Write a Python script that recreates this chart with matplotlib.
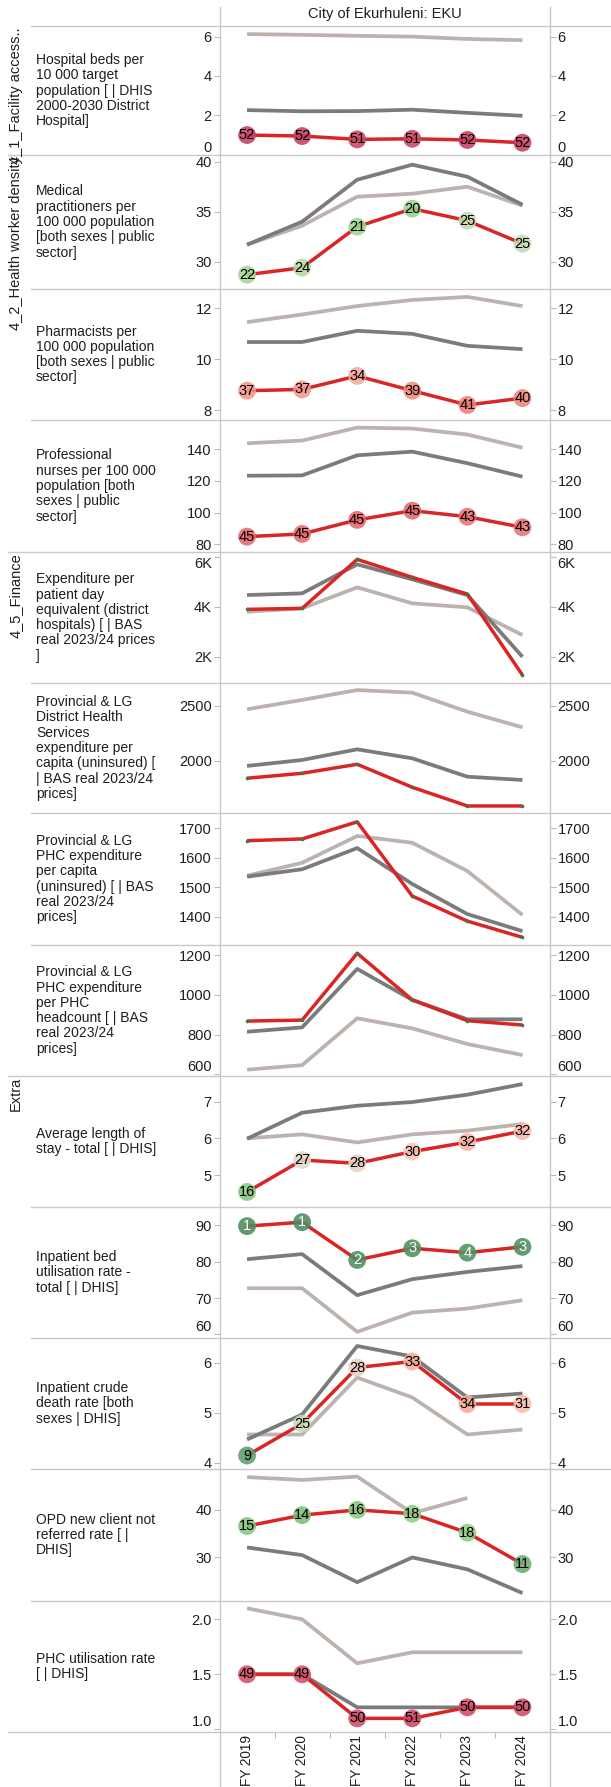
import matplotlib
matplotlib.use("Agg")
import matplotlib.pyplot as plt
from matplotlib.lines import Line2D
from matplotlib.colors import LinearSegmentedColormap
import numpy as np

plt.rcParams['font.family'] = ['Liberation Sans', 'DejaVu Sans']

# ---------------- data ----------------
years = ["FY 2019", "FY 2020", "FY 2021", "FY 2022", "FY 2023", "FY 2024"]
header = "City of Ekurhuleni: EKU"

group_names = ["4_1_Facility access..", "4_2_Health worker density", "4_5_Finance", "Extra"]
group_first_row = [0, 1, 4, 8]

row_labels = [
    "Hospital beds per\n10 000 target\npopulation [ | DHIS\n2000-2030 District\nHospital]",
    "Medical\npractitioners per\n100 000 population\n[both sexes | public\nsector]",
    "Pharmacists per\n100 000 population\n[both sexes | public\nsector]",
    "Professional\nnurses per 100 000\npopulation [both\nsexes | public\nsector]",
    "Expenditure per\npatient day\nequivalent (district\nhospitals) [ | BAS\nreal 2023/24 prices\n]",
    "Provincial & LG\nDistrict Health\nServices\nexpenditure per\ncapita (uninsured) [\n| BAS real 2023/24\nprices]",
    "Provincial & LG\nPHC expenditure\nper capita\n(uninsured) [ | BAS\nreal 2023/24\nprices]",
    "Provincial & LG\nPHC expenditure\nper PHC\nheadcount [ | BAS\nreal 2023/24\nprices]",
    "Average length of\nstay - total [ | DHIS]",
    "Inpatient bed\nutilisation rate -\ntotal [ | DHIS]",
    "Inpatient crude\ndeath rate [both\nsexes | DHIS]",
    "OPD new client not\nreferred rate [ |\nDHIS]",
    "PHC utilisation rate\n[ | DHIS]",
]

# district (red), comparator 1 (dark grey), comparator 2 (light grey), rank
beds_eku = [0.99, 0.94, 0.77, 0.80, 0.74, 0.60]
beds_prov = [2.26, 2.20, 2.21, 2.28, 2.12, 1.97]
beds_nat = [6.13, 6.09, 6.04, 6.00, 5.88, 5.82]
beds_rank = [52, 52, 51, 51, 52, 52]

med_eku = [28.7, 29.4, 33.5, 35.3, 34.1, 31.8]
med_prov = [31.7, 34.0, 38.2, 39.7, 38.5, 35.7]
med_nat = [31.7, 33.6, 36.5, 36.8, 37.5, 35.6]
med_rank = [22, 24, 21, 20, 25, 25]

pharm_eku = [8.77, 8.82, 9.35, 8.77, 8.21, 8.48]
pharm_prov = [10.68, 10.68, 11.12, 11.00, 10.53, 10.40]
pharm_nat = [11.46, 11.76, 12.09, 12.33, 12.45, 12.09]
pharm_rank = [37, 37, 34, 39, 41, 40]

nurse_eku = [84.8, 86.5, 95.4, 101.2, 97.4, 90.7]
nurse_prov = [123.3, 123.5, 136.2, 138.5, 131.2, 122.7]
nurse_nat = [143.8, 145.5, 153.7, 153.1, 149.3, 141.0]
nurse_rank = [45, 45, 45, 45, 43, 43]

pde_eku = [3896, 3936, 5896, 5176, 4508, 1268]
pde_prov = [4468, 4536, 5696, 5096, 4468, 2000]
pde_nat = [3800, 3936, 4776, 4136, 3976, 2868]

dhs_eku = [1843, 1888, 1970, 1761, 1591, 1591]
dhs_prov = [1955, 2009, 2106, 2024, 1857, 1827]
dhs_nat = [2470, 2555, 2645, 2621, 2448, 2306]

phccap_eku = [1658, 1664, 1722, 1470, 1385, 1330]
phccap_prov = [1536, 1561, 1633, 1511, 1409, 1351]
phccap_nat = [1539, 1583, 1674, 1651, 1555, 1406]

phchc_eku = [868, 873, 1211, 975, 870, 848]
phchc_prov = [814, 836, 1132, 975, 877, 877]
phchc_nat = [622, 645, 882, 831, 752, 696]

alos_eku = [4.54, 5.41, 5.32, 5.64, 5.90, 6.20]
alos_prov = [5.99, 6.70, 6.89, 6.99, 7.19, 7.48]
alos_nat = [6.00, 6.11, 5.89, 6.11, 6.21, 6.39]
alos_rank = [16, 27, 28, 30, 32, 32]

bur_eku = [89.8, 90.9, 80.5, 83.7, 82.5, 84.1]
bur_prov = [80.7, 82.1, 70.8, 75.2, 77.2, 78.8]
bur_nat = [72.7, 72.7, 60.7, 66.0, 67.1, 69.4]
bur_rank = [1, 1, 2, 3, 4, 3]

death_eku = [4.15, 4.79, 5.91, 6.03, 5.18, 5.18]
death_prov = [4.47, 4.97, 6.34, 6.13, 5.31, 5.39]
death_nat = [4.57, 4.57, 5.71, 5.31, 4.57, 4.67]
death_rank = [9, 25, 28, 33, 34, 31]

opd_eku = [36.6, 38.9, 40.0, 39.2, 35.2, 28.6]
opd_prov = [32.1, 30.5, 24.8, 30.0, 27.5, 22.5]
opd_nat = [46.9, 46.3, 47.0, 39.3, 42.5, None]
opd_rank = [15, 14, 16, 18, 18, 11]

phcu_eku = [1.5, 1.5, 1.1, 1.1, 1.2, 1.2]
phcu_prov = [1.5, 1.5, 1.2, 1.2, 1.2, 1.2]
phcu_nat = [2.1, 2.0, 1.6, 1.7, 1.7, 1.7]
phcu_rank = [49, 49, 50, 51, 50, 50]

red_series = [beds_eku, med_eku, pharm_eku, nurse_eku, pde_eku, dhs_eku, phccap_eku,
              phchc_eku, alos_eku, bur_eku, death_eku, opd_eku, phcu_eku]
dark_series = [beds_prov, med_prov, pharm_prov, nurse_prov, pde_prov, dhs_prov, phccap_prov,
               phchc_prov, alos_prov, bur_prov, death_prov, opd_prov, phcu_prov]
light_series = [beds_nat, med_nat, pharm_nat, nurse_nat, pde_nat, dhs_nat, phccap_nat,
                phchc_nat, alos_nat, bur_nat, death_nat, opd_nat, phcu_nat]
rank_series = [beds_rank, med_rank, pharm_rank, nurse_rank, None, None, None, None,
               alos_rank, bur_rank, death_rank, opd_rank, phcu_rank]

y_ticks = [[0, 2, 4, 6], [30, 35, 40], [8, 10, 12], [80, 100, 120, 140],
           [2000, 4000, 6000], [2000, 2500], [1400, 1500, 1600, 1700],
           [600, 800, 1000, 1200], [5, 6, 7], [60, 70, 80, 90], [4, 5, 6],
           [30, 40], [1.0, 1.5, 2.0]]
y_tick_labels = [["0", "2", "4", "6"], ["30", "35", "40"], ["8", "10", "12"],
                 ["80", "100", "120", "140"], ["2K", "4K", "6K"], ["2000", "2500"],
                 ["1400", "1500", "1600", "1700"], ["600", "800", "1000", "1200"],
                 ["5", "6", "7"], ["60", "70", "80", "90"], ["4", "5", "6"],
                 ["30", "40"], ["1.0", "1.5", "2.0"]]

# ---------------- layout / style ----------------
W, H, DPI = 611, 1787, 100
y_lims = [(-0.025, 6.54), (27.27, 40.67), (7.62, 12.76), (75.1, 158.5),
          (950, 6190), (1527, 2709), (1304, 1752), (590, 1253),
          (4.13, 7.70), (59.0, 95.07), (3.88, 6.5), (20.84, 48.6), (0.976, 2.166)]
seps = [26, 155, 289, 420, 552, 683, 813, 945, 1076, 1207, 1338, 1469, 1601, 1732]
XL, XR = 219.5, 550.0

RED = "#d92526"
DARK = "#7b7b7b"
LIGHT = "#bcb3ae"
SEP = "#c8c8c8"
TXT = "#1e1e1e"

rank_cmap = LinearSegmentedColormap.from_list("rank", [
    (0.0, "#4b8b5d"), (8 / 51, "#5d9f69"), (14 / 51, "#82c47e"), (22 / 51, "#a8da98"),
    (26 / 51, "#e1d9cd"), (29 / 51, "#f6c4b6"), (33 / 51, "#f4aa9a"),
    (38 / 51, "#f28a7c"), (44 / 51, "#e6666e"), (1.0, "#c63f63")])


def fx(p):
    return p / W


def fy(p):
    return 1 - p / H


fig = plt.figure(figsize=(W / DPI, H / DPI), dpi=DPI)
fig.patch.set_facecolor("white")

x = np.arange(len(years))

for i in range(13):
    top, bot = seps[i], seps[i + 1]
    ax = fig.add_axes([fx(XL), fy(bot), fx(XR) - fx(XL), (bot - top) / H])
    ax.patch.set_alpha(0)
    for s in ax.spines.values():
        s.set_visible(False)
    ax.set_xlim(-0.5, 5.5)
    lo, hi = y_lims[i]
    ax.set_ylim(lo, hi)

    light = np.array([np.nan if v is None else v for v in light_series[i]], dtype=float)
    dark = np.array(dark_series[i], dtype=float)
    red = np.array(red_series[i], dtype=float)
    ax.plot(x, light, color=LIGHT, lw=2.7, zorder=2, solid_capstyle="butt")
    ax.plot(x, dark, color=DARK, lw=2.7, zorder=2.5, solid_capstyle="butt")
    ax.plot(x, red, color=RED, lw=2.5, zorder=3, solid_capstyle="butt")

    ranks = rank_series[i]
    if ranks is not None:
        cols = [rank_cmap((r - 1) / 51) for r in ranks]
        ax.scatter(x, red, s=165, c=cols, alpha=0.88, edgecolors="none", zorder=4)
        for xi, yi, r in zip(x, red, ranks):
            ax.text(xi, yi, str(r), ha="center", va="center", fontsize=10.5,
                    color="white" if r <= 4 else "black", zorder=5)
    else:
        ax.plot(x, red, "o", ms=2.6, color="#3d7a3d", zorder=4, markeredgewidth=0)

    if i == 0:
        ax.axhline(0, color="#bbbbbb", lw=0.8, ls=(0, (1, 1.5)), zorder=1)

    ax.set_yticks(y_ticks[i])
    ax.set_yticklabels(y_tick_labels[i])
    ax.tick_params(axis="y", which="both", left=True, right=True, labelleft=True,
                   labelright=True, length=4, width=0.8, color="#bbbbbb", pad=1.5,
                   labelsize=10.5, labelcolor=TXT)
    # keep edge labels inside their pane
    ph = bot - top
    for t, tv in zip(ax.yaxis.get_major_ticks(), y_ticks[i]):
        py = (tv - lo) / (hi - lo) * ph
        if py < 6:
            t.label1.set_va("bottom"); t.label2.set_va("bottom")
        elif ph - py < 6:
            t.label1.set_va("top"); t.label2.set_va("top")

    if i == 12:
        ax.set_xticks(x)
        ax.set_xticklabels(years, rotation=90, va="top", ha="center", fontsize=9.8,
                           color=TXT)
        ax.set_xticks(np.arange(0.5, 5, 1.0), minor=True)
        ax.tick_params(axis="x", which="major", length=0, pad=2)
        ax.tick_params(axis="x", which="minor", length=4, width=0.8, color="#bbbbbb")
    else:
        ax.set_xticks([])

    fig.text(fx(36), fy((top + bot) / 2), row_labels[i], ha="left", va="center",
             fontsize=10, color=TXT, linespacing=1.12)

# group labels
for name, r0 in zip(group_names, group_first_row):
    fig.text(fx(16), fy(seps[r0] + 1), name, rotation=90, ha="center", va="top",
             fontsize=10.5, color=TXT)

# header
fig.text(fx((XL + XR) / 2), fy(14), header, ha="center", va="center", fontsize=10.5,
         color=TXT)

# separators
for yv in seps:
    x0 = 8 if yv in (155, 552, 1076, 1732) else 31
    fig.add_artist(Line2D([fx(x0), 1], [fy(yv), fy(yv)], transform=fig.transFigure,
                          color=SEP, lw=1.0))
for xv in (XL, XR):
    fig.add_artist(Line2D([fx(xv), fx(xv)], [fy(7), 0], transform=fig.transFigure,
                          color=SEP, lw=1.0))

fig.savefig("out.png", dpi=DPI, facecolor="white")
